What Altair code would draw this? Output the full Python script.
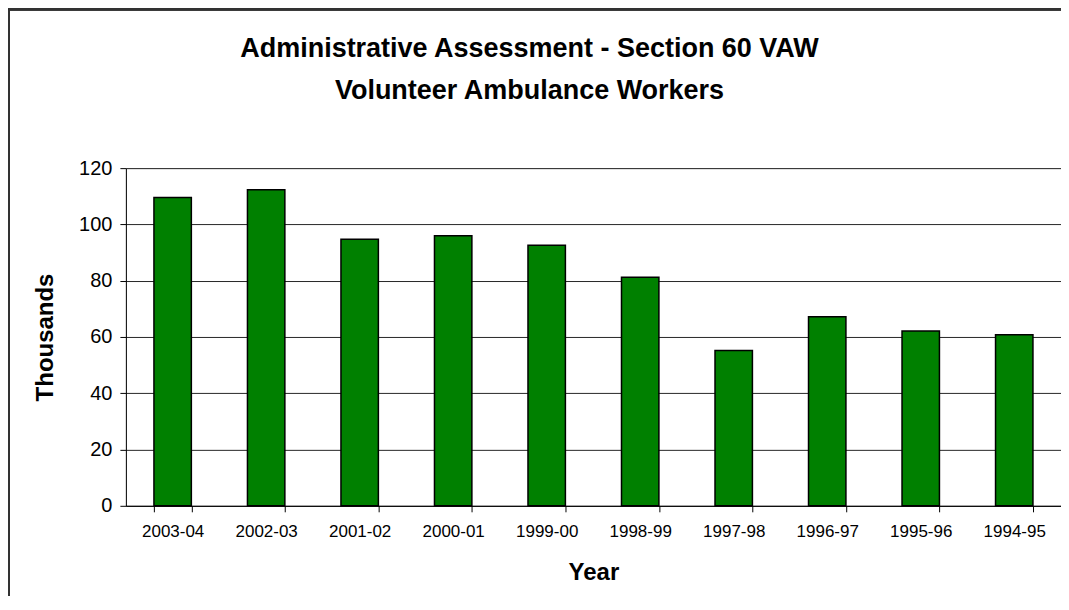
import altair as alt
import pandas as pd

years = ["2003-04", "2002-03", "2001-02", "2000-01", "1999-00",
         "1998-99", "1997-98", "1996-97", "1995-96", "1994-95"]
thousands = [109.6, 112.3, 94.7, 96.0, 92.6, 81.2, 55.2, 67.2, 62.1, 60.8]
title_lines = ["Administrative Assessment - Section 60 VAW",
               "Volunteer Ambulance Workers"]

df = pd.DataFrame({"Year": years, "Thousands": thousands})
tdf = pd.DataFrame({"line": title_lines, "row": [0, 1]})

W, H = 936, 338

bars = alt.Chart(df).mark_bar(
    color="#008000", stroke="black", strokeWidth=1.5
).encode(
    x=alt.X("Year:N", sort=years,
            scale=alt.Scale(paddingInner=0.6, paddingOuter=0.3),
            axis=alt.Axis(title="Year", labelAngle=0, labelFontSize=17,
                          labelFont="Liberation Sans", labelColor="black",
                          labelPadding=12, tickBand="extent", tickSize=6,
                          tickColor="black", domainColor="black",
                          titleFontSize=24, titleFont="Liberation Sans",
                          titleFontWeight="bold", titleColor="black",
                          titleX=W / 2, titleY=67, titleBaseline="middle",
                          titleAlign="center", grid=False)),
    y=alt.Y("Thousands:Q",
            scale=alt.Scale(domain=[0, 120]),
            axis=alt.Axis(title="Thousands", values=[0, 20, 40, 60, 80, 100, 120],
                          labelFontSize=20, labelFont="Liberation Sans",
                          labelColor="black", labelPadding=8, tickSize=6,
                          tickColor="black", domainColor="black",
                          gridColor="black", gridOpacity=0.85,
                          titleFontSize=24, titleFont="Liberation Sans",
                          titleFontWeight="bold", titleColor="black",
                          titleAngle=270, titleX=-80, titleY=H / 2,
                          titleBaseline="middle", titleAlign="center"))
)

title1 = alt.Chart(tdf).transform_filter(alt.datum.row == 0).mark_text(
    fontSize=27, font="Liberation Sans", fontWeight="bold", color="black",
    align="center", baseline="alphabetic"
).encode(text="line:N", x=alt.value(404), y=alt.value(-111))
title2 = alt.Chart(tdf).transform_filter(alt.datum.row == 1).mark_text(
    fontSize=27, font="Liberation Sans", fontWeight="bold", color="black",
    align="center", baseline="alphabetic"
).encode(text="line:N", x=alt.value(404), y=alt.value(-69))

frame_left = alt.Chart(df).mark_rule(color="#333333", strokeWidth=2).encode(
    x=alt.value(-117), y=alt.value(-160), y2=alt.value(H + 100)
)
frame_top = alt.Chart(df).mark_rule(color="#333333", strokeWidth=2).encode(
    x=alt.value(-117), x2=alt.value(W + 10), y=alt.value(-159)
)

chart = alt.layer(bars, title1, title2, frame_left, frame_top).properties(
    width=W, height=H,
    autosize=alt.AutoSizeParams(type="none"),
    padding={"left": 118, "top": 160, "right": 0, "bottom": 90}
).configure_view(stroke="#808080", strokeWidth=1.5).configure(background="white")

chart.save("out.html", embed_options={"renderer": "svg", "actions": False})
